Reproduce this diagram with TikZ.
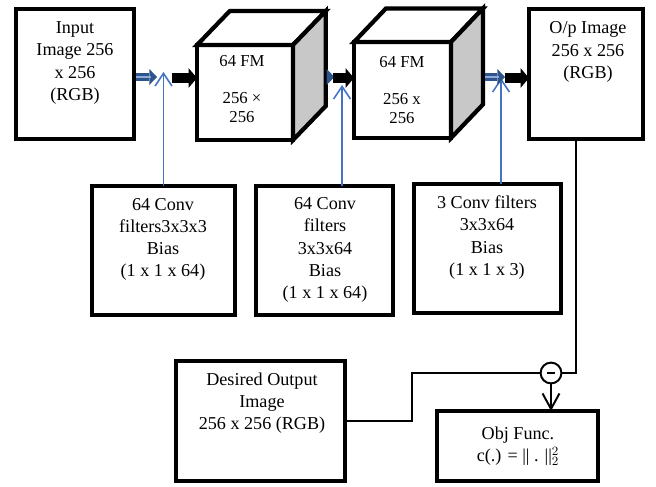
\documentclass[tikz,border=0pt]{standalone}
\usepackage{fontspec}
\setmainfont{Liberation Serif}
\usetikzlibrary{arrows.meta}
\definecolor{filterblue}{RGB}{68,114,196}
\definecolor{flowblue}{RGB}{46,84,140}
\definecolor{sidegray}{RGB}{200,200,200}

\begin{document}
\begin{tikzpicture}[x=1cm,y=1cm,
    font=\fontsize{12.9}{15.8}\selectfont,
    blockbox/.style={draw,line width=3pt,outer sep=0pt,inner sep=0pt},
    cubeface/.style={draw,line width=3pt,line join=miter},
    cubetext/.style={align=center,font=\fontsize{11.9}{13.8}\selectfont},
    feedline/.style={filterblue,line width=1.1pt,
        -{Straight Barb[length=9pt,width=12pt]}},
    bluearrow/.style={flowblue,line width=5.7pt,shorten <=1.5pt,
        -{Triangle[length=5.5pt,width=11.5pt,line width=0pt]}},
    bluecore/.style={filterblue!60!white,line width=1pt,shorten <=1.5pt},
    blackarrow/.style={line width=7pt,
        -{Triangle[length=6pt,width=14pt,line width=0pt]}},
    wireline/.style={line width=1.4pt}]
    \useasboundingbox (0,0) rectangle (16.4,12.15);

    % Input and output images.
    \node[blockbox,minimum width=2.95cm,minimum height=3.25cm]
        (inbox) at (1.875,10.30) {};
    \node[align=center] (intext) at (1.875,10.575)
        {Input\\Image 256\\x 256\\(RGB)};
    \node[blockbox,minimum width=2.85cm,minimum height=3.25cm]
        (outbox) at (14.65,10.30) {};
    \node[align=center] (outtext) at (14.7,10.85)
        {O/p Image\\256 x 256\\(RGB)};

    % Feature map cubes.
    \node[blockbox,minimum width=2.40cm,minimum height=2.375cm]
        (cubeA) at (6.125,9.8375) {};
    \draw[cubeface] (cubeA.north west) -- ++(0.82,0.85)
        -- ++(2.40,0) -- (cubeA.north east) -- cycle;
    \draw[cubeface,fill=sidegray] (cubeA.north east) -- ++(0.82,0.85)
        -- ++(0,-2.375) coordinate (cubeAedge) -- (cubeA.south east) -- cycle;
    \node[cubetext] (cubeAtext) at (6.05,9.925)
        {64 FM\\[0.45cm]256 ×\\256};

    \node[blockbox,minimum width=2.425cm,minimum height=2.40cm]
        (cubeB) at (10.0625,9.90) {};
    \draw[cubeface] (cubeB.north west) -- ++(0.80,0.84)
        -- ++(2.425,0) -- (cubeB.north east) -- cycle;
    \draw[cubeface,fill=sidegray] (cubeB.north east) -- ++(0.80,0.84)
        -- ++(0,-2.40) coordinate (cubeBedge) -- (cubeB.south east) -- cycle;
    \node[cubetext] (cubeBtext) at (10.05,9.90)
        {64 FM\\[0.45cm]256 x\\256};

    % Filter banks.
    \node[blockbox,minimum width=3.575cm,minimum height=3.225cm]
        (convA) at (4.0875,5.8875) {};
    \node[align=center] (convAtext) at (4.075,6.1625)
        {64 Conv\\filters3x3x3\\Bias\\(1 x 1 x 64)};
    \node[blockbox,minimum width=3.425cm,minimum height=3.225cm]
        (convB) at (8.1125,5.8875) {};
    \node[align=center] (convBtext) at (8.125,5.90)
        {64 Conv\\filters\\3x3x64\\Bias\\(1 x 1 x 64)};
    \node[blockbox,minimum width=3.675cm,minimum height=3.225cm]
        (convC) at (12.1875,5.9375) {};
    \node[align=center] (convCtext) at (12.175,6.2125)
        {3 Conv filters\\3x3x64\\Bias\\(1 x 1 x 3)};

    % Data flow along the top row.
    \coordinate (tipA) at (4.0875,10.35);
    \coordinate (tipB) at (8.55,10.025);
    \coordinate (tipC) at (12.525,10.20);
    \coordinate (blueA) at (3.925,10.225);
    \coordinate (blueB) at (8.36,10.225);
    \coordinate (blueC) at (12.625,10.225);
    \coordinate (blackA) at (4.30,10.20);
    \coordinate (blackB) at (8.325,10.20);
    \coordinate (blackC) at (12.625,10.20);

    \draw[feedline] (convA.north) -- (tipA);
    \draw[feedline] (convB.north -| tipB) -- (tipB);
    \draw[feedline] (convC.north -| tipC) -- (tipC);

    \draw[bluearrow] (inbox.east |- blueA) -- (blueA);
    \draw[bluecore,shorten >=0.15cm] (inbox.east |- blueA) -- (blueA);
    \draw[bluearrow] (cubeAedge |- blueB) -- (blueB);
    \draw[bluearrow] (cubeBedge |- blueC) -- (blueC);
    \draw[bluecore,shorten >=0.15cm] (cubeBedge |- blueC) -- (blueC);

    \draw[blackarrow] (blackA) -- (blackA -| cubeA.west);
    \draw[blackarrow] (blackB) -- (blackB -| cubeB.west);
    \draw[blackarrow] (blackC) -- (blackC -| outbox.west);

    % Loss against the desired output.
    \node[blockbox,minimum width=4.225cm,minimum height=3.0cm]
        (desbox) at (6.5125,1.625) {};
    \node[align=center] (destext) at (6.55,2.075)
        {Desired Output\\Image\\256 x 256 (RGB)};
    \node[blockbox,minimum width=4.025cm,minimum height=1.75cm]
        (objbox) at (12.9375,1.0) {};
    \node[align=center] (objtext) at (12.95,0.99)
        {Obj Func.\\c(.) = || . ||$^{2}_{2}$};
    \node[draw,circle,line width=1.4pt,minimum size=0.52cm,inner sep=0pt]
        (diff) at (13.775,2.825) {\rule{5pt}{1.6pt}};

    \coordinate (tap) at (14.40,2.825);
    \coordinate (bend) at (10.30,2.825);
    \draw[wireline] (outbox.south -| tap) -- (tap) -- (diff);
    \draw[wireline] (desbox.east) -| (bend) -- (diff);
    \draw[wireline,-{Straight Barb[length=11pt,width=12pt]}]
        (diff) -- (diff |- objbox.north);
\end{tikzpicture}
\end{document}
